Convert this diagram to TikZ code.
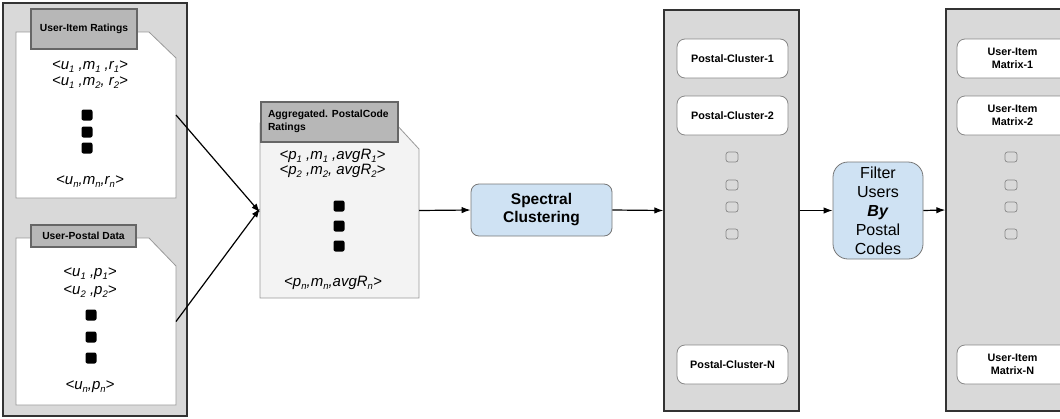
\documentclass[tikz,border=0pt]{standalone}
\usepackage{fontspec}
\setmainfont{Liberation Sans}
\usetikzlibrary{arrows.meta}

\definecolor{panelfill}{HTML}{D9D9D9}
\definecolor{panelline}{HTML}{333333}
\definecolor{tabfill}{HTML}{B7B7B7}
\definecolor{tabline}{HTML}{666666}
\definecolor{docline}{HTML}{999999}
\definecolor{aggfill}{HTML}{F3F3F3}
\definecolor{stepfill}{HTML}{CFE2F3}
\definecolor{stepline}{HTML}{777777}
\definecolor{itemline}{HTML}{888888}

% lowered index for tuple entries
\newcommand\ix[1]{\raisebox{-0.35ex}{\fontsize{9.5}{9.5}\selectfont #1}}

\begin{document}
\begin{tikzpicture}[x=1pt,y=-1pt,
  panel/.style={draw=panelline, line width=1.3pt, fill=panelfill, inner sep=0pt},
  docshape/.style={draw=docline, line width=0.8pt},
  tab/.style={draw=tabline, line width=1.2pt, fill=tabfill, inner sep=0pt,
    font=\fontsize{10.3}{12}\selectfont\bfseries},
  tuple/.style={font=\fontsize{15}{17}\selectfont\itshape, inner sep=0pt},
  dot/.style={fill=black, rounded corners=2pt, minimum width=11pt, minimum height=11pt, inner sep=0pt},
  stepbox/.style={draw=stepline, line width=0.8pt, fill=stepfill, inner sep=0pt},
  item/.style={draw=itemline, line width=0.8pt, fill=white, rounded corners=8pt,
    minimum width=111pt, minimum height=39pt, inner sep=0pt, align=center,
    font=\fontsize{10.8}{13}\selectfont\bfseries},
  slot/.style={draw=itemline, line width=0.7pt, rounded corners=2.5pt,
    minimum width=12pt, minimum height=10pt, inner sep=0pt},
  hidden/.style={inner sep=0pt, outer sep=0pt},
  flow/.style={line width=1.2pt, -{Latex[length=9pt,width=6.5pt]}}
]
\clip (0,0) rectangle (1060,418);

% ---- input data panel ----
\node[panel, minimum width=184pt, minimum height=413pt] (inputs) at (95,209.5) {};

% user-item ratings document
\node[hidden, minimum width=160pt, minimum height=166pt] (doc1) at (96,115) {};
\draw[docshape, fill=white] (16,32) -- (149,32) -- (176,58) -- (176,198) -- (16,198) -- cycle;
\node[tab, minimum width=106pt, minimum height=40pt] (tab1) at (84,29) {User-Item Ratings};
\node[tuple] (r1) at (90,67) {<u\ix{1} ,m\ix{1} ,r\ix{1}>};
\node[tuple] (r2) at (90,83) {<u\ix{1} ,m\ix{2}, r\ix{2}>};
\node[dot] (d1a) at (87,115) {};
\node[dot] (d1b) at (87,132) {};
\node[dot] (d1c) at (87,148) {};
\node[tuple] (rn) at (90,182) {<u\ix{n},m\ix{n},r\ix{n}>};

% user-postal document
\node[hidden, minimum width=160pt, minimum height=167pt] (doc2) at (96,321.5) {};
\draw[docshape, fill=white] (16,238) -- (149,238) -- (176,266) -- (176,405) -- (16,405) -- cycle;
\node[tab, minimum width=105pt, minimum height=22pt] (tab2) at (83.5,236) {User-Postal Data};
\node[tuple] (q1) at (90,274) {<u\ix{1} ,p\ix{1}>};
\node[tuple] (q2) at (90,292) {<u\ix{2} ,p\ix{2}>};
\node[dot] (d2a) at (91,315) {};
\node[dot] (d2b) at (91,337) {};
\node[dot] (d2c) at (91,358) {};
\node[tuple] (qn) at (90,387) {<u\ix{n},p\ix{n}>};

% ---- aggregated ratings document ----
\node[hidden, minimum width=159pt, minimum height=175pt] (doc3) at (339.5,210.5) {};
\draw[docshape, fill=aggfill] (260,123) -- (395,123) -- (419,149) -- (419,298) -- (260,298) -- cycle;
\node[tab, minimum width=137pt, minimum height=40pt] (tab3) at (329.5,122) {};
\node[hidden, anchor=west, align=left, font=\fontsize{10.3}{13}\selectfont\bfseries] (tab3text) at (268,121.5) {Aggregated. PostalCode\\Ratings};
\node[tuple] (a1) at (332.5,156) {<p\ix{1} ,m\ix{1} ,avgR\ix{1}>};
\node[tuple] (a2) at (332.5,171) {<p\ix{2} ,m\ix{2}, avgR\ix{2}>};
\node[dot] (d3a) at (339,206) {};
\node[dot] (d3b) at (339,226) {};
\node[dot] (d3c) at (339,246) {};
\node[tuple] (an) at (333,283) {<p\ix{n},m\ix{n},avgR\ix{n}>};

% ---- spectral clustering step ----
\node[stepbox, rounded corners=8pt, minimum width=141pt, minimum height=52pt, align=center,
  font=\fontsize{15.5}{18}\selectfont\bfseries] (spectral) at (541.5,210) {Spectral\\Clustering};

% ---- postal clusters panel ----
\node[panel, minimum width=135pt, minimum height=401pt] (clusters) at (731.5,210.5) {};
\node[item] (pc1) at (732.5,58.5) {Postal-Cluster-1};
\node[item] (pc2) at (732.5,115.5) {Postal-Cluster-2};
\node[slot] (ps1) at (732,157) {};
\node[slot] (ps2) at (732,185) {};
\node[slot] (ps3) at (732,207) {};
\node[slot] (ps4) at (732,234) {};
\node[item] (pcn) at (732.5,364.5) {Postal-Cluster-N};

% ---- filter step ----
\node[stepbox, rounded corners=15pt, minimum width=90pt, minimum height=97pt, align=center,
  font=\fontsize{16}{19}\selectfont] (filter) at (878,210.5) {Filter\\Users\\\textbf{\textit{By}}\\Postal\\Codes};

% ---- user-item matrices panel ----
\node[panel, minimum width=134pt, minimum height=402pt] (matrices) at (1013,210) {};
\node[item] (m1) at (1012.5,58.5) {User-Item\\Matrix-1};
\node[item] (m2) at (1012.5,115.5) {User-Item\\Matrix-2};
\node[slot] (ms1) at (1011,157) {};
\node[slot] (ms2) at (1011,185) {};
\node[slot] (ms3) at (1011,207) {};
\node[slot] (ms4) at (1011,234) {};
\node[item] (mn) at (1012.5,364.5) {User-Item\\Matrix-N};

% ---- connectors ----
\draw[flow] (doc1.east) -- ([yshift=-2pt]doc3.west);
\draw[flow] (doc2.east) -- ([yshift=2pt]doc3.west);
\draw[flow] (doc3.east) -- (spectral.west);
\draw[flow] (spectral.east) -- (clusters.west);
\draw[flow] (clusters.east) -- (filter.west);
\draw[flow] (filter.east) -- (matrices.west);
\end{tikzpicture}
\end{document}
